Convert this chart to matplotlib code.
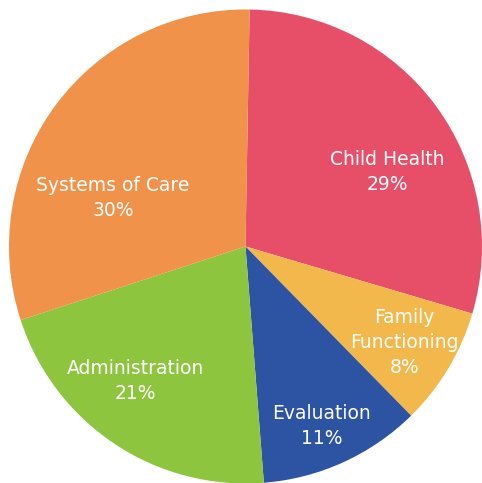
import matplotlib
matplotlib.use("Agg")
import matplotlib.pyplot as plt

categories = ["Child Health", "Family\nFunctioning", "Evaluation", "Administration", "Systems of Care"]
values = [29, 8, 11, 21, 30]
colors = ["#E74F69", "#F3B84C", "#2D53A3", "#8DC53F", "#F0924A"]
label_pos = [(0.599, 0.314), (0.671, -0.407), (0.321, -0.757), (-0.464, -0.567), (-0.561, 0.205)]

fig = plt.figure(figsize=(4.82, 4.83), dpi=100)
ax = fig.add_axes([0, 0, 1, 1])
ax.pie(values, colors=colors, startangle=89, counterclock=False, radius=1,
       wedgeprops=dict(linewidth=0))
ax.set_xlim(-1.038, 1.0)
ax.set_ylim(-0.998, 1.040)
ax.set_aspect("auto")
ax.axis("off")
for cat, v, (x, y) in zip(categories, values, label_pos):
    ax.text(x, y, f"{cat}\n{v}%", color="white", ha="center", va="center",
            fontsize=13.5, linespacing=1.4, family="DejaVu Sans")
fig.savefig("out.png", dpi=100)
